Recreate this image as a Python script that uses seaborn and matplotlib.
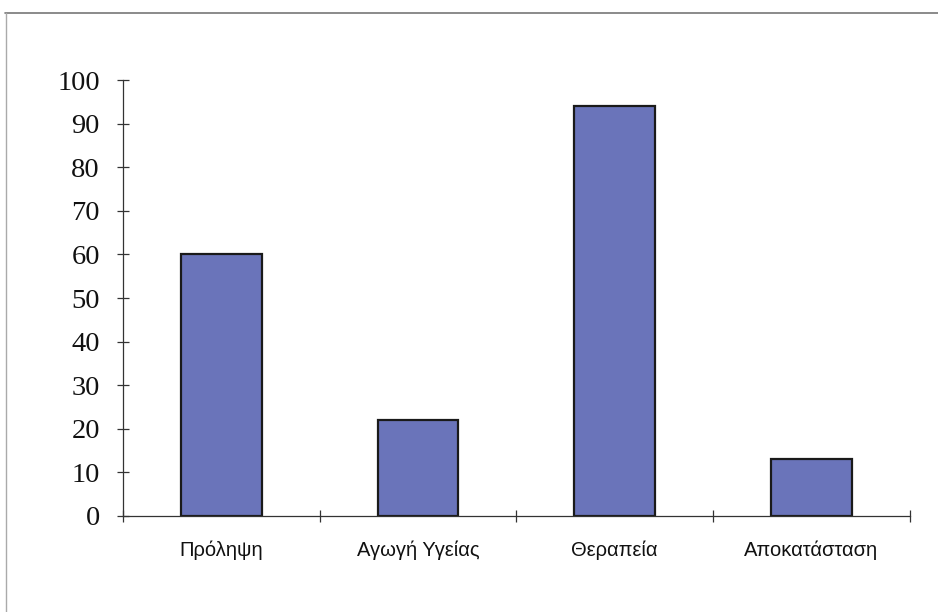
import matplotlib
matplotlib.use("Agg")
import matplotlib.pyplot as plt
from matplotlib.lines import Line2D
import seaborn as sns
import pandas as pd
import numpy as np

categories = ["Πρόληψη", "Αγωγή Υγείας", "Θεραπεία", "Αποκατάσταση"]
values = [60, 22, 94, 13]
y_ticks = [0, 10, 20, 30, 40, 50, 60, 70, 80, 90, 100]

df = pd.DataFrame({"category": categories, "value": values})

sns.set_theme(style="white")
plt.rcParams["font.family"] = ["Liberation Sans", "DejaVu Sans"]

fig = plt.figure(figsize=(9.38, 6.12), dpi=100)
ax = fig.add_axes([0.131, 0.157, 0.839, 0.712])

sns.barplot(data=df, x="category", y="value", order=categories,
            color="#6a74ba", saturation=1, edgecolor="#1a1a1a",
            linewidth=1.6, width=0.41, ax=ax)

ax.set_xlim(-0.5, len(categories) - 0.5)
ax.set_ylim(0, 100)
ax.set_yticks(y_ticks)
ax.set_yticklabels([str(t) for t in y_ticks], family=["Liberation Serif", "DejaVu Serif"],
                   fontsize=20.5, color="#111111")
ax.set_xticks(range(len(categories)))
ax.set_xticklabels(categories, fontsize=14.5, color="#111111")
ax.set_xticks(np.arange(-0.5, len(categories)), minor=True)

ax.tick_params(axis="y", which="major", direction="inout", length=9, width=0.9,
               color="#333333", pad=12, left=True)
ax.tick_params(axis="x", which="major", length=0, pad=18)
ax.tick_params(axis="x", which="minor", direction="inout", length=9, width=0.9,
               color="#333333", bottom=True)

for side in ("top", "right"):
    ax.spines[side].set_visible(False)
for side in ("left", "bottom"):
    ax.spines[side].set_color("#333333")
    ax.spines[side].set_linewidth(0.9)

ax.set_xlabel("")
ax.set_ylabel("")
ax.grid(False)

# chart-area frame edges (top and left)
fig.lines.append(Line2D([0.005, 1.0], [0.979, 0.979], transform=fig.transFigure,
                        color="#777777", linewidth=1.2))
fig.lines.append(Line2D([0.006, 0.006], [0.0, 0.979], transform=fig.transFigure,
                        color="#aaaaaa", linewidth=1.0))

fig.savefig("out.png", dpi=100, facecolor="white")
